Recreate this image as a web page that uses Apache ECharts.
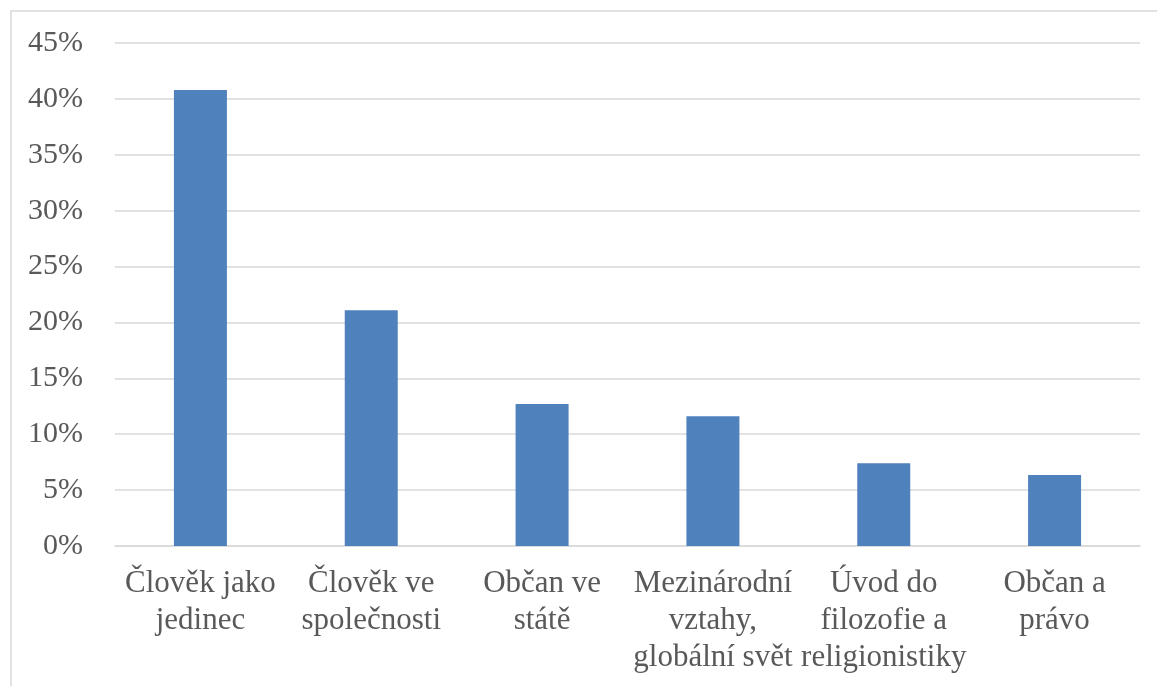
<!DOCTYPE html>
<html><head><meta charset="utf-8">
<script src="https://cdn.jsdelivr.net/npm/echarts@6/dist/echarts.min.js"></script>
<style>html,body{margin:0;padding:0;background:#fff}#c{width:1157px;height:686px}</style>
</head><body><div id="c"></div>
<script>
const categories = ["Člověk jako\njedinec", "Člověk ve\nspolečnosti", "Občan ve\nstátě", "Mezinárodní\nvztahy,\nglobální svět", "Úvod do\nfilozofie a\nreligionistiky", "Občan a\nprávo"];
const values = [40.8, 21.1, 12.7, 11.6, 7.4, 6.35];
const yTicks = [0, 5, 10, 15, 20, 25, 30, 35, 40, 45];

const chart = echarts.init(document.getElementById('c'));
chart.setOption({
  animation: false,
  textStyle: { fontFamily: 'Liberation Serif' },
  graphic: [{ type: 'rect', shape: { x: 11, y: 11, width: 1160, height: 700 }, style: { fill: 'none', stroke: '#d9d9d9', lineWidth: 1.5 } }],
  grid: { left: 115, right: 17, top: 43, bottom: 140 },
  xAxis: {
    type: 'category', data: categories,
    axisLine: { lineStyle: { color: '#d9d9d9', width: 1.5 } },
    axisTick: { show: false },
    axisLabel: { interval: 0, color: '#595959', fontSize: 31, lineHeight: 37, margin: 19, fontFamily: 'Liberation Serif' }
  },
  yAxis: {
    type: 'value', min: yTicks[0], max: yTicks[yTicks.length - 1], interval: 5,
    axisLine: { show: false }, axisTick: { show: false },
    splitLine: { lineStyle: { color: '#d9d9d9', width: 1.5 } },
    axisLabel: { color: '#595959', fontSize: 30, margin: 32, fontFamily: 'Liberation Serif', formatter: v => v + '%' }
  },
  series: [{ type: 'bar', data: values, barWidth: 53, itemStyle: { color: '#4f81bd' } }]
});
</script></body></html>
